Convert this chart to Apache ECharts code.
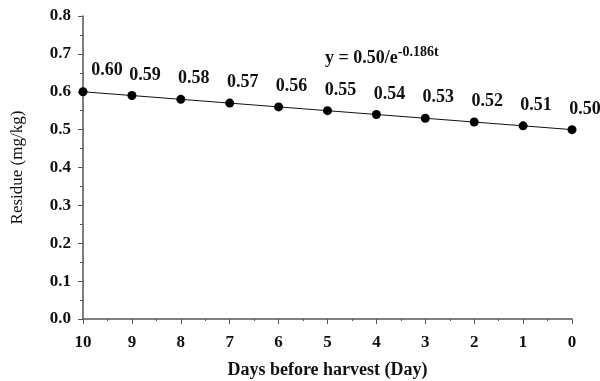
<!DOCTYPE html>
<html>
<head>
<meta charset="utf-8">
<script src="https://cdn.jsdelivr.net/npm/echarts@6/dist/echarts.min.js"></script>
<style>
  html, body { margin: 0; padding: 0; background: #fff; }
  #chart { width: 600px; height: 381px; }
</style>
</head>
<body>
<div id="chart"></div>
<script>
// data
const days = [10, 9, 8, 7, 6, 5, 4, 3, 2, 1, 0];
const residue = [0.60, 0.59, 0.58, 0.57, 0.56, 0.55, 0.54, 0.53, 0.52, 0.51, 0.50];
const equation = 'y = 0.50/e';
const equationExp = '-0.186t';

const serif = '"Liberation Serif", "DejaVu Serif", serif';
const chart = echarts.init(document.getElementById('chart'));

chart.setOption({
  animation: false,
  grid: { left: 83, right: 28, top: 16, bottom: 62, containLabel: false, outerBoundsMode: 'none' },
  xAxis: {
    type: 'value',
    min: 0, max: 10, interval: 1,
    inverse: true,
    name: 'Days before harvest (Day)',
    nameLocation: 'middle',
    nameGap: 42,
    nameTextStyle: { fontFamily: serif, fontWeight: 'bold', fontSize: 18, color: '#111' },
    axisLine: { lineStyle: { color: '#555', width: 1.5 } },
    axisTick: { length: 5, lineStyle: { color: '#555' } },
    minorTick: { show: true, splitNumber: 2, length: 2, lineStyle: { color: '#555' } },
    splitLine: { show: false },
    axisLabel: { fontFamily: serif, fontWeight: 'bold', fontSize: 17, color: '#111', margin: 15 }
  },
  yAxis: {
    type: 'value',
    min: 0, max: 0.8, interval: 0.1,
    position: 'left',
    name: 'Residue (mg/kg)',
    nameLocation: 'middle',
    nameGap: 57,
    nameTextStyle: { fontFamily: serif, fontSize: 17, color: '#111' },
    axisLine: { show: true, onZero: false, lineStyle: { color: '#555', width: 1.5 } },
    axisTick: { show: true, length: 5, lineStyle: { color: '#555' } },
    minorTick: { show: true, splitNumber: 2, length: 3, lineStyle: { color: '#555' } },
    splitLine: { show: false },
    axisLabel: {
      fontFamily: serif, fontWeight: 'bold', fontSize: 17, color: '#111', margin: 12,
      formatter: v => v.toFixed(1)
    }
  },
  series: [{
    type: 'line',
    data: days.map((d, i) => [d, residue[i]]),
    symbol: 'circle',
    symbolSize: 9,
    itemStyle: { color: '#000' },
    lineStyle: { color: '#111', width: 1 },
    label: {
      show: true,
      position: 'top',
      distance: 10,
      fontFamily: serif, fontWeight: 'bold', fontSize: 18, color: '#111',
      formatter: p => p.value[1].toFixed(2)
    },
    labelLayout: p => ({ dx: p.dataIndex === 0 ? 24 : 13, dy: p.dataIndex === 0 ? 2 : 3 })
  }],
  graphic: [{
    type: 'text',
    left: 325, top: 45,
    style: {
      text: '{a|' + equation + '}{b|' + equationExp + '}',
      rich: {
        a: { fontFamily: serif, fontWeight: 'bold', fontSize: 18, fill: '#111', verticalAlign: 'bottom', lineHeight: 22 },
        b: { fontFamily: serif, fontWeight: 'bold', fontSize: 14, fill: '#111', verticalAlign: 'top', lineHeight: 22, padding: [0, 0, 8, 0] }
      }
    }
  }]
});
</script>
</body>
</html>
